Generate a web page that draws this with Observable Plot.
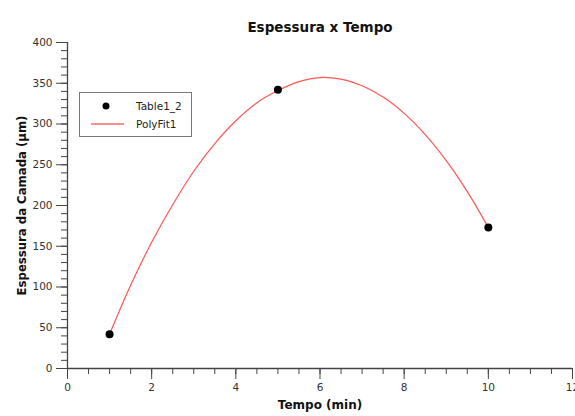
<!DOCTYPE html>
<html>
<head>
<meta charset="utf-8">
<script src="https://cdn.jsdelivr.net/npm/d3@7"></script>
<script src="https://cdn.jsdelivr.net/npm/@observablehq/plot@0.6"></script>
<style>
  body { margin: 0; background: #fff; }
  #wrap { position: relative; width: 575px; height: 416px; font-family: "DejaVu Sans", sans-serif; }
  #legend { position: absolute; left: 79px; top: 92px; width: 113px; height: 45px; border: 1px solid #777; background: #fff; font-size: 10.5px; color: #222; box-sizing: border-box; }
  #legend .row { position: absolute; left: 0; height: 16px; display: flex; align-items: center; }
  #legend svg { display: block; }
</style>
</head>
<body>
<div id="wrap"></div>
<script>
// Measured points (Table1_2)
const tempo = [1, 5, 10];
const espessura = [42, 342, 173];

// PolyFit1 curve
const fitX = [1, 1.5, 2, 2.5, 3, 3.5, 4, 4.5, 5, 5.5, 6, 6.5, 7, 7.5, 8, 8.5, 9, 9.5, 10];
const fitY = [42, 102, 155, 201, 242, 276, 304, 326, 341, 352, 357, 355, 347, 333, 313, 287, 255, 217, 173];

const xTicks = [0, 2, 4, 6, 8, 10, 12];
const xMinor = d3.range(0, 12.01, 0.5);
const yTicks = [0, 50, 100, 150, 200, 250, 300, 350, 400];
const yMinor = d3.range(0, 400.1, 10);

const title = "Espessura x Tempo";
const xLabel = "Tempo (min)";
const yLabel = "Espessura da Camada (µm)";
const legendNames = ["Table1_2", "PolyFit1"];

const points = tempo.map((t, i) => ({x: t, y: espessura[i]}));
const fit = fitX.map((t, i) => ({x: t, y: fitY[i]}));

const axisColor = "#444";

const chart = Plot.plot({
  width: 575,
  height: 416,
  marginLeft: 67,
  marginRight: 3,
  marginTop: 42,
  marginBottom: 48,
  x: {domain: [0, 12]},
  y: {domain: [0, 400]},
  style: {fontFamily: "DejaVu Sans, sans-serif", fontSize: "10.5px", color: "#333", background: "#fff", overflow: "visible"},
  marks: [
    Plot.axisX({ticks: xMinor, tickSize: 6, text: null, stroke: axisColor, label: null}),
    Plot.axisX({ticks: xTicks, tickSize: 11, tickPadding: 4, stroke: axisColor, label: null, fill: "#333"}),
    Plot.axisY({ticks: yMinor, tickSize: 6, text: null, stroke: axisColor, label: null}),
    Plot.axisY({ticks: yTicks, tickSize: 11, tickPadding: 4, stroke: axisColor, label: null, fill: "#333"}),
    Plot.ruleY([0], {stroke: axisColor, strokeWidth: 1.3}),
    Plot.ruleX([0], {stroke: axisColor, strokeWidth: 1.3}),
    Plot.line(fit, {x: "x", y: "y", stroke: "#ff5555", strokeWidth: 1.2, curve: "catmull-rom"}),
    Plot.dot(points, {x: "x", y: "y", r: 4, fill: "#000"}),
    Plot.text([title], {frameAnchor: "top", textAnchor: "middle", dy: -20, fontWeight: "bold", fontSize: 13.5, fill: "#111"}),
    Plot.text([xLabel], {frameAnchor: "bottom", textAnchor: "middle", dy: 40, fontWeight: "bold", fontSize: 12, fill: "#111"}),
    Plot.text([yLabel], {frameAnchor: "left", textAnchor: "middle", dx: -45, rotate: -90, fontWeight: "bold", fontSize: 11.7, fill: "#111"})
  ]
});

const wrap = document.getElementById("wrap");
wrap.appendChild(chart);

const legend = document.createElement("div");
legend.id = "legend";
legend.innerHTML = `
  <div class="row" style="top:5px;">
    <svg width="50" height="16"><circle cx="26" cy="8" r="3.5" fill="#000"/></svg>
    <span style="margin-left:6px">${legendNames[0]}</span>
  </div>
  <div class="row" style="top:23px;">
    <svg width="50" height="16"><line x1="11" x2="44" y1="8" y2="8" stroke="#ff6666" stroke-width="1.5"/></svg>
    <span style="margin-left:6px">${legendNames[1]}</span>
  </div>`;
wrap.appendChild(legend);
</script>
</body>
</html>
